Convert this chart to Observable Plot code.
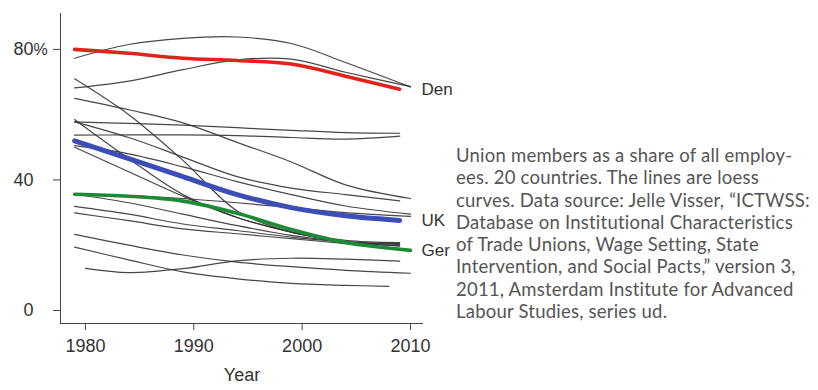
<!DOCTYPE html>
<html><head><meta charset="utf-8">
<script src="https://cdn.jsdelivr.net/npm/d3@7"></script>
<script src="https://cdn.jsdelivr.net/npm/@observablehq/plot@0.6"></script>
<style>
body{margin:0;background:#fff;width:818px;height:390px;overflow:hidden;position:relative;font-family:"Liberation Sans",Arial,sans-serif}
#chart{position:absolute;left:0;top:0;width:452px;height:390px}
#caption{position:absolute;left:456px;top:144px;font-family:Lato,"Open Sans",sans-serif;font-size:18.5px;color:#555;white-space:nowrap}
#caption div{height:22.3px;line-height:22.3px}
</style></head><body>
<div id="chart"></div>
<div id="caption"></div>
<script>
// Union density (% of employees) at first year, 1984, 1989, 1994, 1999, 2004, last year
const midYears = [1984, 1989, 1994, 1999, 2004];
const countries = ["Denmark","Sweden","Finland","New Zealand","Ireland","Norway","Belgium","Austria","Portugal","UK","Italy","Australia","Germany","Netherlands","Canada","Japan","Switzerland","US","France","Spain"];
const firstYear = [1979,1979,1979,1979,1979,1979,1979,1979,1979,1979,1979,1979,1979,1979,1979,1979,1979,1979,1979,1980];
const lastYear  = [2009,2010,2010,2009,2010,2009,2009,2009,2009,2009,2010,2009,2010,2009,2010,2009,2009,2010,2008,2009];
const denmark     = [80, 78.8, 77.3, 76.6, 75.5, 71.8, 67.8];
const sweden      = [77.3, 81.5, 83.4, 83.8, 81.8, 76, 68.5];
const finland     = [68.2, 70.3, 73.8, 76.8, 77, 73, 68.6];
const newZealand  = [71, 60, 46, 30.5, 24, 21.5, 20.8];
const ireland     = [65, 61.5, 57.5, 51.5, 45.5, 38.5, 34.3];
const norway      = [57.8, 57.3, 56.8, 56, 55.2, 54.5, 54.3];
const belgium     = [53.7, 53.8, 53.8, 53.6, 53, 52.5, 53.4];
const austria     = [57.8, 53, 47, 41, 37.5, 35.5, 33.6];
const portugal    = [58.5, 46.5, 35.5, 28.5, 24, 21, 19.8];
const uk          = [52, 46.5, 41, 35.5, 31.5, 29, 27.6];
const italy       = [50.5, 48, 44, 39.5, 35.5, 32, 29.5];
const australia   = [50, 42.5, 35, 28.5, 24, 21, 19.8];
const germany     = [35.6, 35, 33.5, 29.8, 24.8, 20.8, 18.4];
const netherlands = [35.6, 33, 29.5, 26, 23, 21, 20.2];
const canada      = [35.5, 35.2, 34.3, 33, 31.5, 30, 28.8];
const japan       = [31.9, 29.5, 26.5, 24.5, 22.5, 21, 20.5];
const switzerland = [29.9, 27.5, 25, 23.5, 22, 20.5, 19];
const us          = [23.3, 20, 17, 14.8, 13.4, 12.3, 11.4];
const france      = [19.4, 15.5, 11.8, 9.7, 8.3, 7.7, 7.4];
const spain       = [12.9, 11.6, 12.8, 15.2, 16, 15.7, 15.1];
const allValues = [denmark, sweden, finland, newZealand, ireland, norway, belgium, austria, portugal, uk, italy, australia, germany, netherlands, canada, japan, switzerland, us, france, spain];

const highlighted = ["Denmark", "UK", "Germany"];
const highlightLabels = ["Den", "UK", "Ger"];
const xTicks = [1980, 1990, 2000, 2010];
const yTicks = [0, 40, 80];
const yUnit = "%";
const xTitle = "Year";
const captionLines = [
  "Union members as a share of all employ-",
  "ees. 20 countries. The lines are loess",
  "curves. Data source: Jelle Visser, \u201cICTWSS:",
  "Database on Institutional Characteristics",
  "of Trade Unions, Wage Setting, State",
  "Intervention, and Social Pacts,\u201d version 3,",
  "2011, Amsterdam Institute for Advanced",
  "Labour Studies, series ud."
];

// build tidy rows
const rows = [];
countries.forEach((c, i) => {
  const yrs = [firstYear[i], ...midYears, lastYear[i]];
  yrs.forEach((yr, j) => rows.push({country: c, year: yr, value: allValues[i][j]}));
});
const lastRows = highlighted.map((c, k) => {
  const i = countries.indexOf(c);
  return {label: highlightLabels[k], value: allValues[i][allValues[i].length - 1]};
});
const colors = {"Denmark": "#e2231c", "UK": "#3d4db6", "Germany": "#1c8b36"};
const widths = {"Denmark": 3.6, "UK": 5, "Germany": 3.6};

const plot = Plot.plot({
  width: 452, height: 390,
  marginLeft: 60, marginRight: 29, marginTop: 13, marginBottom: 67,
  style: {fontFamily: "'Liberation Sans', Arial, sans-serif", fontSize: "18px", color: "#333", background: "#fff"},
  x: {domain: [1977.7, 2011.2]},
  y: {domain: [-4, 91]},
  marks: [
    Plot.ruleX([1977.7], {stroke: "#444", strokeWidth: 1}),
    Plot.ruleY([-4], {stroke: "#444", strokeWidth: 1}),
    Plot.axisX({ticks: xTicks, tickSize: 7, tickPadding: 9, tickFormat: d => String(d), label: null, stroke: "#444"}),
    Plot.axisY({ticks: yTicks, tickSize: 7, tickPadding: 20, tickFormat: d => String(d), label: null, stroke: "#444"}),
    Plot.text([yTicks[yTicks.length - 1]], {y: d => d, frameAnchor: "left", dx: -27, text: () => yUnit, textAnchor: "start", fill: "#333", fontSize: 16}),
    Plot.text([xTitle], {frameAnchor: "bottom", dy: 57, text: d => d, fill: "#333"}),
    Plot.line(rows, {x: "year", y: "value", z: "country", stroke: "#333", strokeWidth: 1.2, strokeOpacity: 0.9, curve: "catmull-rom"}),
    ...highlighted.map(c => Plot.line(rows.filter(r => r.country === c), {x: "year", y: "value", stroke: colors[c], strokeWidth: widths[c], curve: "catmull-rom"})),
    Plot.text(lastRows, {y: "value", text: "label", frameAnchor: "right", dx: -2, textAnchor: "start", fontSize: 17, fill: "#333"})
  ]
});
document.getElementById("chart").appendChild(plot);

const cap = document.getElementById("caption");
captionLines.forEach(t => {
  const d = document.createElement("div");
  d.textContent = t;
  cap.appendChild(d);
});
// fit the widest line to the width the caption spans in the reference (about 354px)
let maxW = 0, maxLen = 1;
captionLines.forEach(t => {
  const probe = document.createElement("span");
  probe.textContent = t;
  probe.style.whiteSpace = "nowrap";
  cap.appendChild(probe);
  const w = probe.getBoundingClientRect().width;
  if (w > maxW) { maxW = w; maxLen = t.length; }
  cap.removeChild(probe);
});
const ls = (354 - maxW) / maxLen;
cap.style.letterSpacing = ls.toFixed(2) + "px";
</script>
</body></html>
